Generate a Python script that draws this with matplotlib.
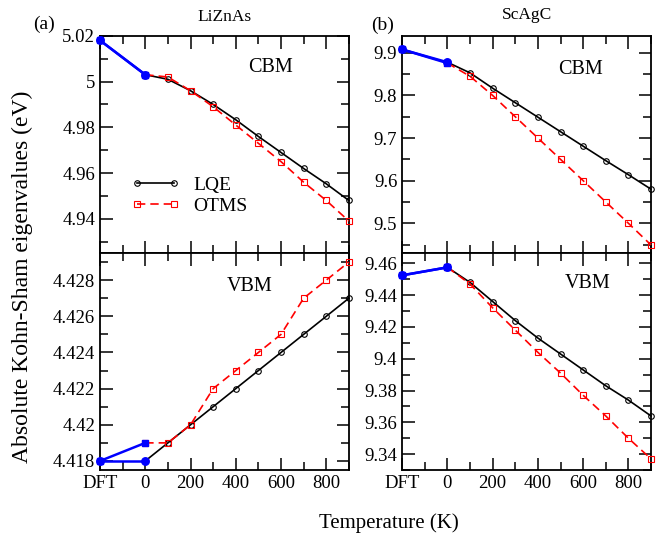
import numpy as np
import matplotlib
matplotlib.use('Agg')
import matplotlib.pyplot as plt
from matplotlib.ticker import MultipleLocator, FormatStrFormatter, FixedLocator

plt.rcParams['font.family'] = 'serif'
plt.rcParams['font.serif'] = ['Liberation Serif', 'DejaVu Serif']
plt.rcParams['mathtext.fontset'] = 'stix'

# temperatures (K); DFT point is put at x = -200
temps = [0, 100, 200, 300, 400, 500, 600, 700, 800, 900]
dft_x = -200

# LiZnAs
lizn_cbm_dft = 5.018
lizn_cbm_lqe = [5.003, 5.001, 4.996, 4.990, 4.9833, 4.976, 4.969, 4.962, 4.9553, 4.948]
lizn_cbm_otms = [5.003, 5.002, 4.996, 4.989, 4.981, 4.973, 4.965, 4.956, 4.948, 4.939]
lizn_vbm_dft = 4.418
lizn_vbm_lqe = [4.418, 4.419, 4.420, 4.421, 4.422, 4.423, 4.424, 4.425, 4.426, 4.427]
lizn_vbm_otms = [4.419, 4.419, 4.420, 4.422, 4.423, 4.424, 4.425, 4.427, 4.428, 4.429]

# ScAgC
scag_cbm_dft = 9.908
scag_cbm_lqe = [9.878, 9.853, 9.817, 9.783, 9.749, 9.715, 9.681, 9.647, 9.614, 9.580]
scag_cbm_otms = [9.876, 9.845, 9.800, 9.750, 9.700, 9.650, 9.600, 9.550, 9.500, 9.449]
scag_vbm_dft = 9.4525
scag_vbm_lqe = [9.4575, 9.448, 9.436, 9.424, 9.413, 9.403, 9.393, 9.383, 9.374, 9.364]
scag_vbm_otms = [9.4575, 9.447, 9.432, 9.418, 9.404, 9.391, 9.377, 9.364, 9.350, 9.337]

xtick_pos = [-200, 0, 200, 400, 600, 800]
xtick_lab = ['DFT', '0', '200', '400', '600', '800']

fig = plt.figure(figsize=(6.67, 5.35), dpi=100)
ax_tl = fig.add_axes([0.150, 0.527, 0.373, 0.406])
ax_bl = fig.add_axes([0.150, 0.1215, 0.373, 0.4055])
ax_tr = fig.add_axes([0.603, 0.527, 0.373, 0.406])
ax_br = fig.add_axes([0.603, 0.1215, 0.373, 0.4055])


def draw(ax, dft, lqe, otms, ylim, ymaj, ymin, label, lab_xy, square_top=False):
    # blue DFT -> 0 K segments
    zs, zc = (6, 5) if square_top else (5, 6)
    ax.plot([dft_x, temps[0]], [dft, otms[0]], color='#0000ff', lw=1.8, marker='s',
            ms=4.6, zorder=zs, clip_on=False)
    ax.plot([dft_x, temps[0]], [dft, lqe[0]], color='#0000ff', lw=1.8, marker='o',
            ms=5.4, zorder=zc, clip_on=False)
    ax.plot(temps, lqe, color='black', lw=1.2, marker='o', ms=4, mfc='none', mew=0.8,
            label='LQE', zorder=3, clip_on=False)
    ax.plot(temps, otms, color='#ff0000', lw=1.2, ls=(0, (5, 3)), marker='s', ms=4,
            mfc='none', mew=0.8, label='OTMS', zorder=4, clip_on=False)
    ax.set_xlim(-200, 900)
    ax.set_ylim(*ylim)
    ax.xaxis.set_major_locator(FixedLocator(xtick_pos))
    ax.set_xticklabels(xtick_lab)
    ax.xaxis.set_minor_locator(MultipleLocator(100))
    ax.yaxis.set_major_locator(MultipleLocator(ymaj))
    ax.yaxis.set_minor_locator(MultipleLocator(ymin))
    ax.yaxis.set_major_formatter(FormatStrFormatter('%g'))
    ax.tick_params(which='both', direction='in', top=True, right=True, labelsize=13.5)
    ax.tick_params(which='major', length=9, width=1.1)
    ax.tick_params(which='minor', length=5.5, width=1.1)
    for sp in ax.spines.values():
        sp.set_linewidth(1.3)
    ax.text(lab_xy[0], lab_xy[1], label, transform=ax.transAxes, fontsize=14.5,
            ha='center', va='center')


draw(ax_tl, lizn_cbm_dft, lizn_cbm_lqe, lizn_cbm_otms, (4.925, 5.02), 0.02, 0.01,
     'CBM', (0.687, 0.853))
draw(ax_bl, lizn_vbm_dft, lizn_vbm_lqe, lizn_vbm_otms, (4.4175, 4.4295), 0.002, 0.001,
     'VBM', (0.60, 0.845), square_top=True)
draw(ax_tr, scag_cbm_dft, scag_cbm_lqe, scag_cbm_otms, (9.43, 9.94), 0.1, 0.05,
     'CBM', (0.717, 0.843))
draw(ax_br, scag_vbm_dft, scag_vbm_lqe, scag_vbm_otms, (9.33, 9.4665), 0.02, 0.01,
     'VBM', (0.745, 0.86))

for ax in (ax_tl, ax_tr):
    ax.tick_params(labelbottom=False)

leg = ax_tl.legend(loc='center left', bbox_to_anchor=(0.1245, 0.265), frameon=False,
                   fontsize=14, numpoints=2, handlelength=2.5, handletextpad=0.7,
                   labelspacing=0.2, borderpad=0, borderaxespad=0)

fig.text(0.066, 0.955, '(a)', fontsize=14, ha='center', va='center')
fig.text(0.337, 0.968, 'LiZnAs', fontsize=12.5, ha='center', va='center')
fig.text(0.573, 0.953, '(b)', fontsize=14, ha='center', va='center')
fig.text(0.790, 0.972, 'ScAgC', fontsize=12.5, ha='center', va='center')
fig.text(0.033, 0.483, 'Absolute Kohn-Sham eigenvalues (eV)', fontsize=17,
         rotation=90, ha='center', va='center')
fig.text(0.583, 0.022, 'Temperature (K)', fontsize=15, ha='center', va='center')

fig.savefig('out.png', dpi=100)
